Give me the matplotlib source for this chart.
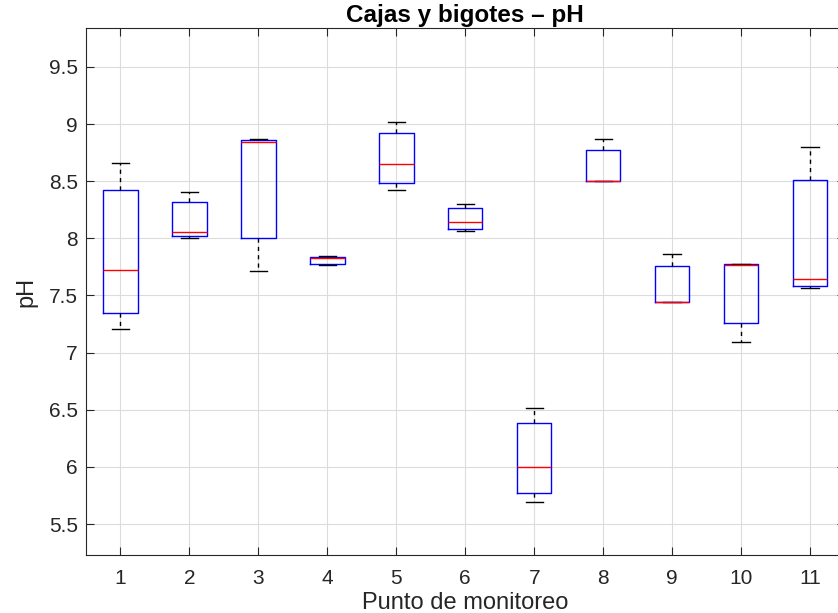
import matplotlib
matplotlib.use("Agg")
import matplotlib.pyplot as plt

plt.rcParams['font.family'] = ['Liberation Sans', 'DejaVu Sans']

puntos = [1, 2, 3, 4, 5, 6, 7, 8, 9, 10, 11]
whislo = [7.21, 8.006, 7.714, 7.764, 8.426, 8.065, 5.695, 8.50, 7.443, 7.09, 7.563]
q1 = [7.344, 8.018, 8.00, 7.78, 8.482, 8.085, 5.774, 8.50, 7.443, 7.259, 7.586]
med = [7.723, 8.053, 8.846, 7.826, 8.648, 8.143, 5.996, 8.50, 7.443, 7.764, 7.644]
q3 = [8.423, 8.318, 8.861, 7.84, 8.925, 8.263, 6.387, 8.774, 7.758, 7.773, 8.508]
whishi = [8.66, 8.41, 8.87, 7.85, 9.019, 8.304, 6.518, 8.87, 7.863, 7.773, 8.797]
yticks = [5.5, 6, 6.5, 7, 7.5, 8, 8.5, 9, 9.5]
ytick_labels = ['5.5', '6', '6.5', '7', '7.5', '8', '8.5', '9', '9.5']

stats = [dict(label=str(p), whislo=a, q1=b, med=c, q3=d, whishi=e, fliers=[])
         for p, a, b, c, d, e in zip(puntos, whislo, q1, med, q3, whishi)]

fig = plt.figure(figsize=(8.38, 6.13), dpi=100)
ax = fig.add_axes([86/838, 1 - 555/613, (844.5 - 86)/838, (555 - 28)/613])

ax.bxp(stats, positions=puntos, widths=0.5, capwidths=0.25, showfliers=False,
       boxprops=dict(color='#0000ff', linewidth=1.0),
       medianprops=dict(color='#ff0000', linewidth=1.0),
       whiskerprops=dict(color='black', linewidth=1.0, linestyle=(0, (3, 3))),
       capprops=dict(color='black', linewidth=1.0))

ax.set_xlim(0.5, 11.5)
ax.set_ylim(5.229, 9.841)
ax.set_yticks(yticks)
ax.set_yticklabels(ytick_labels)
ax.set_xticks(puntos)
ax.set_xticklabels([str(p) for p in puntos])
ax.grid(True, color='#dcdcdc', linewidth=0.8)
ax.set_axisbelow(True)
ax.tick_params(direction='in', top=True, right=True, labelsize=15, colors='#262626', length=5.5)
ax.tick_params(axis='x', pad=10)
ax.tick_params(axis='y', pad=6)
for s in ax.spines.values():
    s.set_color('#262626')
ax.set_xlabel('Punto de monitoreo', fontsize=17, color='#262626', labelpad=3)
ax.set_ylabel('pH', fontsize=17, color='#262626', labelpad=8)
ax.set_title('Cajas y bigotes – pH', fontsize=17.5, fontweight='bold', pad=4)

fig.savefig('out.png', dpi=100)
